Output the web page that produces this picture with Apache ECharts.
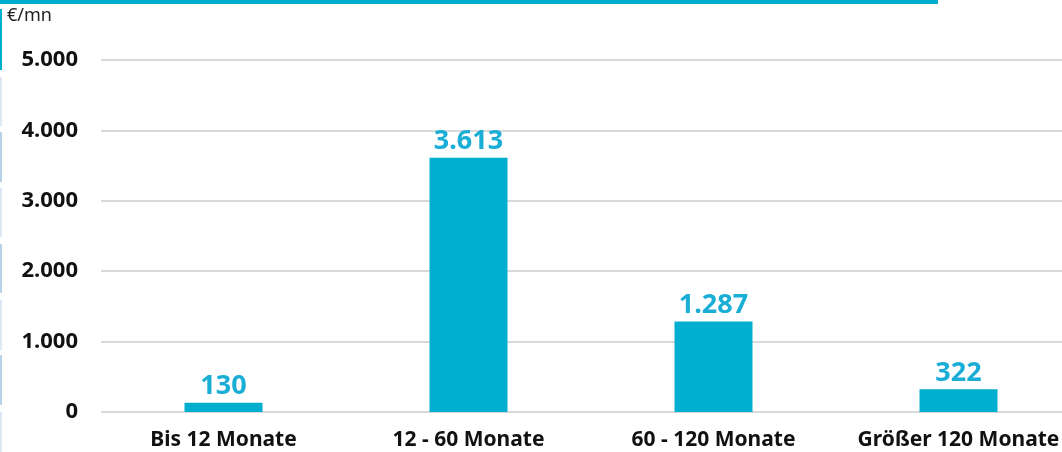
<!DOCTYPE html>
<html>
<head>
<meta charset="utf-8">
<script src="https://cdn.jsdelivr.net/npm/echarts@6/dist/echarts.min.js"></script>
<style>
  html, body { margin: 0; padding: 0; background: #fff; }
  #chart { width: 1062px; height: 452px; }
</style>
</head>
<body>
<div id="chart"></div>
<script>
// Laufzeitklassen und Volumen in €/mn
const categories = ['Bis 12 Monate', '12 - 60 Monate', '60 - 120 Monate', 'Größer 120 Monate'];
const values = [130, 3613, 1287, 322];
const yTicks = [0, 1000, 2000, 3000, 4000, 5000];

const fmt = v => String(v).replace(/\B(?=(\d{3})+(?!\d))/g, '.');

// thin decorative strip down the left edge: [top, bottom, colour]
const edgeStrip = [
  [9, 70, '#00afd0'],
  [77, 126, '#dce9f5'],
  [132, 182, '#b8d2ea'],
  [188, 237, '#dce9f5'],
  [244, 293, '#b8d2ea'],
  [300, 350, '#dce9f5'],
  [355, 405, '#b8d2ea'],
  [412, 452, '#dce9f5']
];

const chart = echarts.init(document.getElementById('chart'));
chart.setOption({
  animation: false,
  textStyle: { fontFamily: 'Noto Sans' },
  // the plot area runs past the right edge, so the last category is cut off
  grid: { left: 101, width: 980, top: 60, height: 352, containLabel: false, outerBoundsMode: 'none' },
  graphic: [
    { type: 'rect', shape: { x: 0, y: 0, width: 938, height: 4 }, style: { fill: '#00afd0' } },
    ...edgeStrip.map(([y0, y1, c]) => ({
      type: 'rect', shape: { x: 0, y: y0, width: 2, height: y1 - y0 }, style: { fill: c }
    })),
    { type: 'text', left: 7, top: 7, style: { text: '€/mn', font: '18px "Noto Sans"', fill: '#222' } }
  ],
  xAxis: {
    type: 'category',
    data: categories,
    axisLine: { show: false },
    axisTick: { show: false },
    axisLabel: { interval: 0, hideOverlap: false, color: '#111', fontWeight: 'bold', fontSize: 21, margin: 18 }
  },
  yAxis: {
    type: 'value',
    min: yTicks[0],
    max: yTicks[yTicks.length - 1],
    interval: 1000,
    axisLabel: { color: '#111', fontWeight: 'bold', fontSize: 22, margin: 23, formatter: fmt },
    splitLine: { lineStyle: { color: '#d9d9d9', width: 2 } }
  },
  series: [{
    type: 'bar',
    data: values,
    barWidth: 78,
    itemStyle: { color: '#00afd0' },
    label: {
      show: true,
      position: 'top',
      distance: 3,
      color: '#1aaed6',
      fontWeight: 'bold',
      fontSize: 27,
      formatter: p => fmt(p.value)
    }
  }]
});
</script>
</body>
</html>
